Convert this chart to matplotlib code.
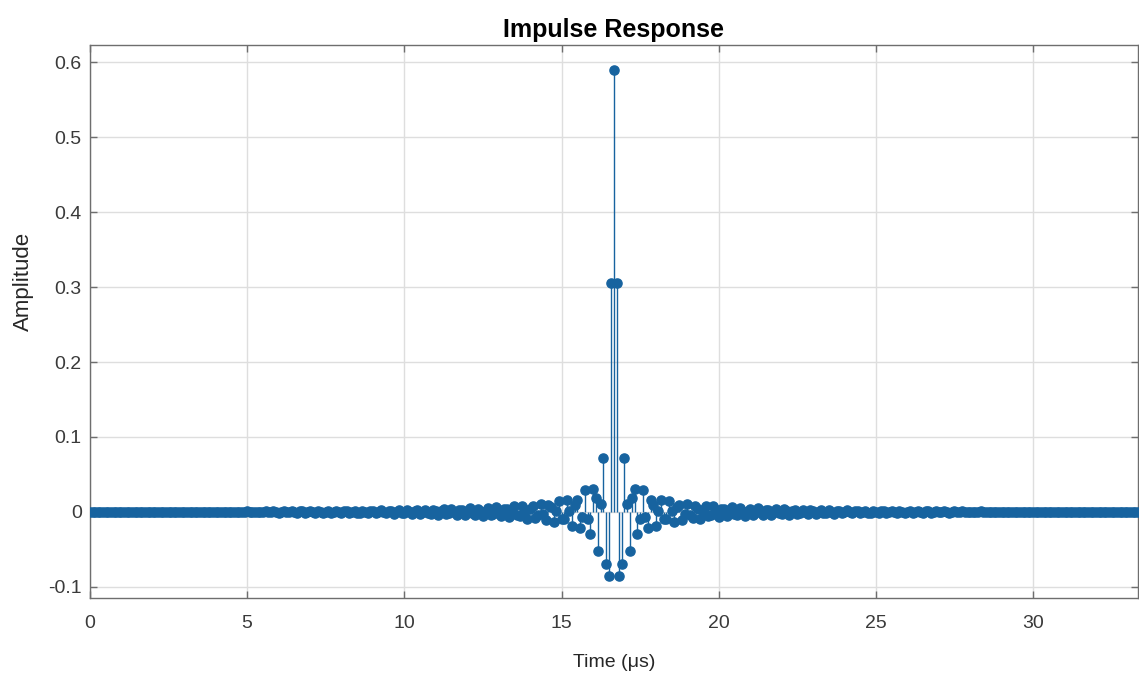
import numpy as np
import matplotlib
matplotlib.use("Agg")
import matplotlib.pyplot as plt

# sample rate of the filter, MHz (time axis is in microseconds)
fs_mhz = 12.0

# impulse response, one half from the centre tap outwards (symmetric FIR)
half = [
    0.5900, 0.3057, -0.0853, -0.0701, 0.0719, 0.0099, -0.0525, 0.0180, 0.0305, -0.0291,
    -0.0098, 0.0287, -0.0065, -0.0209, 0.0164, 0.0095, -0.0193, 0.0017, 0.0161, -0.0101,
    -0.0091, 0.0139, 0.0009, -0.0131, 0.0062, 0.0087, -0.0103, -0.0025, 0.0108, -0.0035,
    -0.0082, 0.0077, 0.0035, -0.0090, 0.0016, 0.0076, -0.0056, -0.0040, 0.0075, -0.0002,
    -0.0069, 0.0040, 0.0044, -0.0061, -0.0008, 0.0062, -0.0026, -0.0045, 0.0049, 0.0016,
    -0.0055, 0.0015, 0.0044, -0.0038, -0.0021, 0.0048, -0.0006, -0.0042, 0.0029, 0.0025,
    -0.0041, -0.0001, 0.0040, -0.0020, -0.0027, 0.0034, 0.0007, -0.0036, 0.0013, 0.0027,
    -0.0028, -0.0011, 0.0032, -0.0007, -0.0027, 0.0021, 0.0014, -0.0028, 0.0002, 0.0026,
    -0.0016, -0.0016, 0.0024, 0.0002, -0.0024, 0.0011, 0.0017, -0.0020, -0.0006, 0.0022,
    -0.0007, -0.0018, 0.0016, 0.0008, -0.0020, 0.0003, 0.0017, -0.0012, -0.0010, 0.0017,
    0.0000, -0.0016, 0.0009, 0.0011, -0.0014, -0.0002, 0.0015, -0.0006, -0.0011, 0.0012,
    0.0004, -0.0013, 0.0003, 0.0011, -0.0009, -0.0005, 0.0012, -0.0001, -0.0011, 0.0007,
    0.0006, -0.0010, -0.0001, 0.0010, -0.0005, -0.0007, 0.0008, 0.0002, -0.0009, 0.0003,
    0.0007, -0.0006, -0.0003, 0.0007, -0.0001, -0.0006, 0.0005, 0.0003, -0.0006, 0.0000,
    0.0006, -0.0003, -0.0004, 0.0005, 0.0001, -0.0005, 0.0002, 0.0004, -0.0004, -0.0001,
    0.0005, -0.0001, -0.0004, 0.0003, 0.0002, -0.0004, 0.0000, 0.0003, -0.0002, -0.0002,
    0.0003, 0.0000, -0.0003, 0.0002, 0.0002, -0.0002, -0.0001, 0.0003, -0.0001, -0.0002,
    0.0002, 0.0001, -0.0002, 0.0000, 0.0002, -0.0001, -0.0001, 0.0002, 0.0000, -0.0002,
    0.0001, 0.0001, -0.0002, 0.0000, 0.0002, -0.0001, -0.0001, 0.0001, 0.0000, -0.0001,
    0.0000, 0.0001, -0.0001, -0.0001, 0.0001, 0.0000, -0.0001, 0.0001, 0.0001, -0.0001,
    0.0000,
]

xticks = [0, 5, 10, 15, 20, 25, 30]
yticks = [-0.1, 0, 0.1, 0.2, 0.3, 0.4, 0.5, 0.6]
ytick_labels = ["-0.1", "0", "0.1", "0.2", "0.3", "0.4", "0.5", "0.6"]

# full response: mirror the half around the centre tap
h = np.concatenate([np.array(half[:0:-1]), np.array(half)])
t = np.arange(len(h)) / fs_mhz

plt.rcParams['font.family'] = ['Liberation Sans', 'DejaVu Sans']

fig = plt.figure(figsize=(11.39, 6.75), dpi=100)
ax = fig.add_axes([0.079, 0.114, 0.92, 0.819])

stem_col = '#17639f'
ax.vlines(t, 0, h, color=stem_col, lw=1.0, zorder=3)
ax.plot(t, h, 'o', ms=6.6, color=stem_col, mfc=stem_col, mec=stem_col, zorder=4)

ax.set_xlim(0, (len(h) - 1) / fs_mhz)
ax.set_ylim(-0.115, 0.623)
ax.set_xticks(xticks)
ax.set_yticks(yticks)
ax.set_yticklabels(ytick_labels)

ax.grid(True, color='#dedede', lw=1.0)
ax.set_axisbelow(True)
for s in ax.spines.values():
    s.set_color('#6e6e6e')
    s.set_linewidth(1.0)
ax.tick_params(direction='in', top=True, right=True, length=5, width=1,
               color='#6e6e6e', labelcolor='#3a3a3a', labelsize=14)
ax.tick_params(axis='x', pad=12)
ax.tick_params(axis='y', pad=6)

ax.set_title('Impulse Response', fontsize=18, fontweight='bold', pad=6)
ax.set_xlabel('Time (\u03bcs)', fontsize=14, color='#262626', labelpad=16)
ax.set_ylabel('Amplitude', fontsize=16, color='#262626')
ax.yaxis.set_label_coords(-0.053, 0.573)

fig.savefig('out.png', dpi=100)
